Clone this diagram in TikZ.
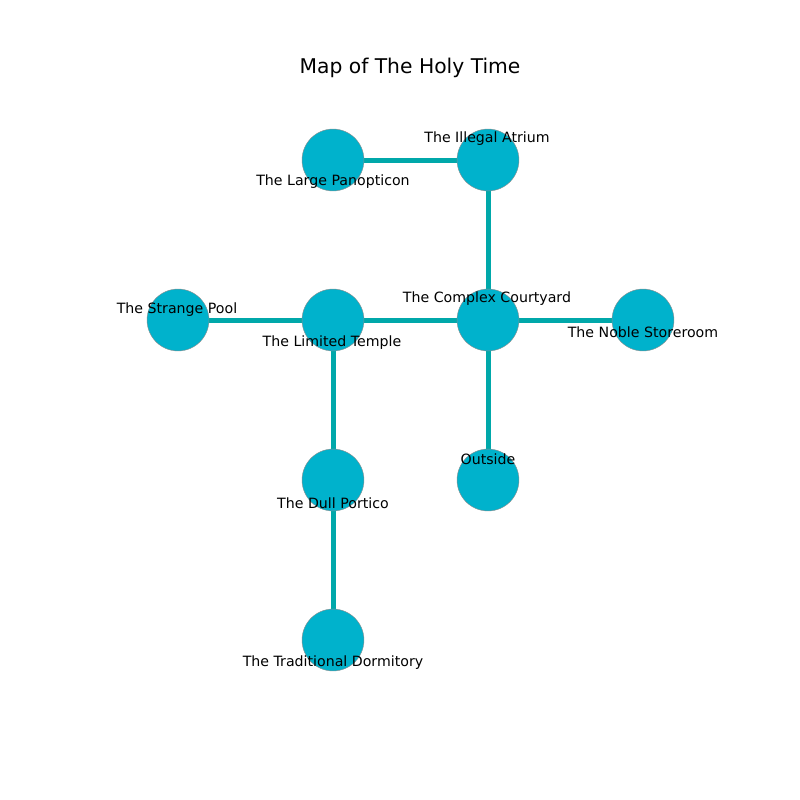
\documentclass[tikz,border=0pt]{standalone}
\usepackage{fontspec}
\setmainfont{DejaVu Sans}
\usetikzlibrary{positioning, backgrounds}
\definecolor{roomfill}{RGB}{0,178,204}
\definecolor{passteal}{RGB}{0,168,170}
\colorlet{roomedge}{black!45}

\begin{document}
\begin{tikzpicture}[
    x=0.72pt, y=-0.72pt,
    room/.style={
        circle, minimum size=44.6pt, inner sep=0pt,
        fill=roomfill, draw=roomedge, line width=0.3pt
    },
    passage/.style={
        draw=passteal, line width=3.6pt
    },
    roomlabel/.style={
        font=\fontsize{10.2}{12}\selectfont, inner sep=0pt, text=black
    },
    maptitle/.style={
        font=\fontsize{14.6}{17}\selectfont, inner sep=0pt
    }
]
\useasboundingbox (0,0) rectangle (800,800);

% ===== Title =====
\node[maptitle] (title) at (410,68) {Map of The Holy Time};

% ===== Rooms =====
\node[room] (panop)   at (333,160) {};
\node[room] (atrium)  at (488,160) {};
\node[room] (pool)    at (178,320) {};
\node[room] (temple)  at (333,320) {};
\node[room] (court)   at (488,320) {};
\node[room] (store)   at (643,320) {};
\node[room] (portico) at (333,480) {};
\node[room] (outside) at (488,480) {};
\node[room] (dorm)    at (333,640) {};

% ===== Passages =====
\begin{scope}[on background layer]
    \draw[passage] (panop.center)   -- (atrium.center);
    \draw[passage] (atrium.center)  -- (court.center);
    \draw[passage] (pool.center)    -- (temple.center);
    \draw[passage] (temple.center)  -- (court.center);
    \draw[passage] (court.center)   -- (store.center);
    \draw[passage] (court.center)   -- (outside.center);
    \draw[passage] (temple.center)  -- (portico.center);
    \draw[passage] (portico.center) -- (dorm.center);
\end{scope}

% ===== Labels =====
\node[roomlabel] (lpanop)   at (333,182) {The Large Panopticon};
\node[roomlabel] (latrium)  at (487,139) {The Illegal Atrium};
\node[roomlabel] (lpool)    at (177,310) {The Strange Pool};
\node[roomlabel] (ltemple)  at (332,343) {The Limited Temple};
\node[roomlabel] (lcourt)   at (487,299) {The Complex Courtyard};
\node[roomlabel] (lstore)   at (643,332) {The Noble Storeroom};
\node[roomlabel] (lportico) at (333,503) {The Dull Portico};
\node[roomlabel] (loutside) at (488,459) {Outside};
\node[roomlabel] (ldorm)    at (333,663) {The Traditional Dormitory};

\end{tikzpicture}
\end{document}
